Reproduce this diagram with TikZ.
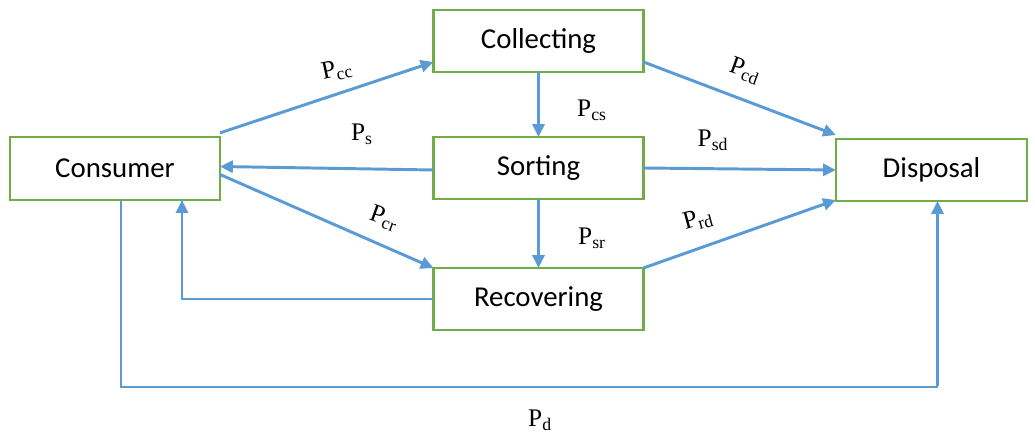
\documentclass[tikz,border=0pt]{standalone}
\usepackage{fontspec}
\setmainfont{Carlito}
\newfontfamily\lblfont{Liberation Serif}
\usetikzlibrary{arrows.meta,calc}
\definecolor{boxgreen}{RGB}{112,173,71}
\definecolor{flowblue}{RGB}{91,155,213}
\newcommand{\prob}[1]{{\lblfont P\textsubscript{#1}}}

\begin{document}
\begin{tikzpicture}[x=0.025cm, y=-0.025cm, outer sep=0pt,
  >={Triangle[length=0.32cm, width=0.3cm]},
  stage/.style={draw=boxgreen, line width=1.7pt, minimum width=5.25cm, minimum height=1.55cm,
    font=\fontsize{20.5}{24}\selectfont},
  flow/.style={draw=flowblue, line width=2.1pt, ->},
  thinflow/.style={draw=flowblue, line width=1.1pt},
  prlabel/.style={font=\fontsize{18}{21}\selectfont}]

\useasboundingbox (0,0) rectangle (1035,432);

\node[stage] at (538.5, 41) (COLL) {Collecting};
\node[stage] at (538.5, 168) (SORT) {Sorting};
\node[stage] at (538.5, 299) (RECO) {Recovering};
\node[stage, minimum width=5.25cm, minimum height=1.58cm] at (115, 168.5) (CONS) {Consumer};
\node[stage, minimum width=4.78cm, minimum height=1.55cm] at (931.5, 170) (DISP) {Disposal};
\coordinate (BASELINE) at (538.5, 387);

    \draw [flow] ($(CONS.north east)+(0,-4)$) -- ($(COLL.south west)+(0,-10)$);
    \draw [flow] ($(COLL.south east)+(0,-10)$) -- ($(DISP.north west)+(0,-4)$);
    \draw [flow] (COLL.south) -- (SORT.north);
    \draw [flow] ($(SORT.west)+(0,2)$) -- ($(CONS.east)+(0,-2)$);
    \draw [flow] (SORT.east) -- (DISP.west);
    \draw [flow] ($(CONS.east)+(0,6)$) -- (RECO.north west);
    \draw [flow] (SORT.south) -- (RECO.north);
    \draw [flow] (RECO.north east) -- ($(DISP.south west)+(0,-1)$);
    \draw [thinflow] (RECO.west) -| ($(CONS.south)+(67,0)$);
    \draw [flow] ($(CONS.south)+(67,97)$) -- ($(CONS.south)+(67,0)$);
    \draw [thinflow] ($(CONS.south)+(6,0)$) |- (BASELINE) -| ($(DISP.south)+(6,0)$);
    \draw [flow] ($(DISP.south)+(6,185)$) -- ($(DISP.south)+(6,0)$);

\node[prlabel, rotate=12] at (337, 70) (L_CC) {\prob{cc}};
\node[prlabel, rotate=-20] at (745, 71) (L_CD) {\prob{cd}};
\node[prlabel] at (592, 110) (L_CS) {\prob{cs}};
\node[prlabel] at (362, 134) (L_S) {\prob{s}};
\node[prlabel] at (713, 140) (L_SD) {\prob{sd}};
\node[prlabel, rotate=-20] at (384, 218) (L_CR) {\prob{cr}};
\node[prlabel] at (592, 238) (L_SR) {\prob{sr}};
\node[prlabel, rotate=15] at (698, 220) (L_RD) {\prob{rd}};
\node[prlabel] at (540, 420) (L_D) {\prob{d}};
\end{tikzpicture}
\end{document}
